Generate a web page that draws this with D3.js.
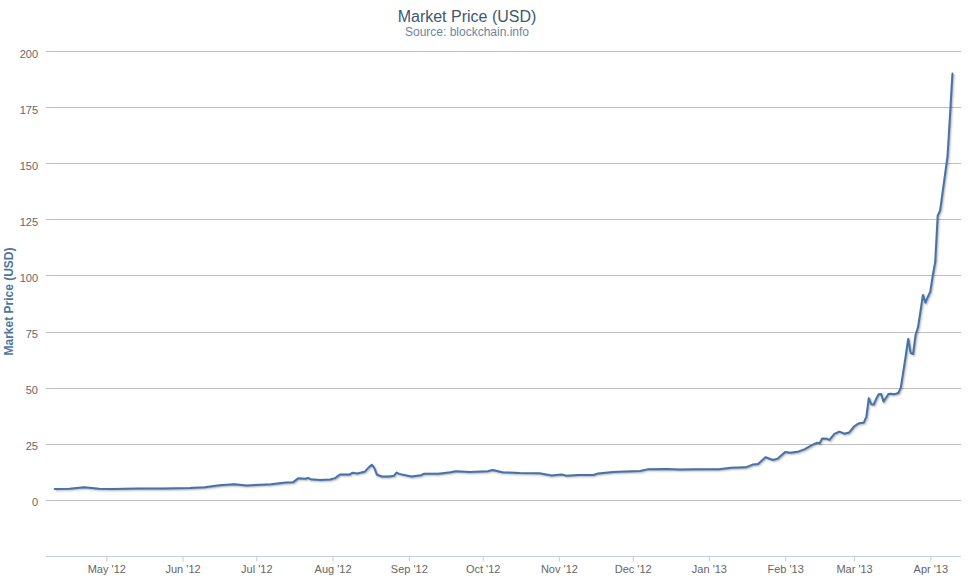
<!DOCTYPE html>
<html>
<head>
<meta charset="utf-8">
<script src="https://cdn.jsdelivr.net/npm/d3@7"></script>
<style>
  html, body { margin: 0; padding: 0; background: #fff; }
  svg { display: block; font-family: "Liberation Sans", Arial, sans-serif; }
</style>
</head>
<body>
<svg id="chart" width="979" height="584"></svg>
<script>
// ---- data ----
const dates = [
  "2012-04-10","2012-04-16","2012-04-22","2012-04-28","2012-05-04","2012-05-14","2012-05-24",
  "2012-06-04","2012-06-10","2012-06-16","2012-06-22","2012-06-27","2012-07-03","2012-07-07",
  "2012-07-13","2012-07-16","2012-07-18","2012-07-21","2012-07-22","2012-07-23","2012-07-27",
  "2012-07-31","2012-08-02","2012-08-04","2012-08-08","2012-08-09","2012-08-11","2012-08-14",
  "2012-08-16","2012-08-17","2012-08-18","2012-08-19","2012-08-21","2012-08-24","2012-08-26",
  "2012-08-27","2012-08-28","2012-09-02","2012-09-06","2012-09-07","2012-09-13","2012-09-18",
  "2012-09-20","2012-09-26","2012-10-03","2012-10-05","2012-10-09","2012-10-16","2012-10-24",
  "2012-10-29","2012-11-02","2012-11-04","2012-11-09","2012-11-15","2012-11-17","2012-11-23",
  "2012-11-28","2012-12-04","2012-12-07","2012-12-15","2012-12-20","2012-12-28","2013-01-05",
  "2013-01-10","2013-01-16","2013-01-19","2013-01-21","2013-01-24","2013-01-27","2013-01-29",
  "2013-02-01","2013-02-03","2013-02-06","2013-02-09","2013-02-12","2013-02-14","2013-02-15",
  "2013-02-16","2013-02-18","2013-02-19","2013-02-21","2013-02-23","2013-02-25","2013-02-27",
  "2013-03-01","2013-03-02","2013-03-03","2013-03-04","2013-03-05","2013-03-06","2013-03-07",
  "2013-03-08","2013-03-09","2013-03-10","2013-03-11","2013-03-12","2013-03-13","2013-03-14",
  "2013-03-15","2013-03-16","2013-03-17","2013-03-18","2013-03-19","2013-03-20","2013-03-21",
  "2013-03-22","2013-03-23","2013-03-24","2013-03-25","2013-03-26","2013-03-27","2013-03-28",
  "2013-03-29","2013-03-30","2013-03-31","2013-04-01","2013-04-02","2013-04-03","2013-04-04",
  "2013-04-05","2013-04-06","2013-04-07","2013-04-08","2013-04-09","2013-04-10"
];
const prices = [
  4.9, 5.0, 5.6, 5.0, 4.9, 5.1, 5.1,
  5.3, 5.6, 6.5, 7.0, 6.4, 6.8, 7.0,
  7.7, 7.9, 9.6, 9.4, 9.8, 9.2, 8.9,
  9.1, 9.7, 11.3, 11.3, 12.1, 11.8, 12.5,
  14.8, 15.6, 14.1, 11.2, 10.4, 10.4, 10.8,
  12.2, 11.6, 10.4, 11.0, 11.6, 11.6, 12.3,
  12.8, 12.4, 12.8, 13.3, 12.3, 12.0, 11.9,
  10.9, 11.3, 10.8, 11.1, 11.1, 11.8, 12.4,
  12.6, 12.9, 13.6, 13.8, 13.5, 13.6, 13.6,
  14.3, 14.5, 15.8, 16.0, 19.0, 17.8, 18.4,
  21.3, 21.0, 21.4, 22.6, 24.5, 25.5, 25.2,
  27.3, 27.2, 26.7, 29.4, 30.4, 29.5, 30.0,
  32.7, 33.5, 34.1, 34.3, 34.5, 37.0, 45.3,
  42.6, 42.5, 45.0, 47.1, 47.2, 43.8, 45.5,
  47.2, 47.3, 47.1, 47.3, 47.6, 50.0, 57.0,
  64.0, 71.7, 65.5, 65.0, 73.4, 76.9, 84.0,
  91.3, 87.9, 90.5, 92.8, 100.0, 106.0, 126.5,
  129.0, 137.0, 145.0, 153.0, 171.0, 190.0
];
const monthTicks = ["2012-05-01","2012-06-01","2012-07-01","2012-08-01","2012-09-01","2012-10-01",
  "2012-11-01","2012-12-01","2013-01-01","2013-02-01","2013-03-01","2013-04-01"];
const monthLabels = ["May '12","Jun '12","Jul '12","Aug '12","Sep '12","Oct '12",
  "Nov '12","Dec '12","Jan '13","Feb '13","Mar '13","Apr '13"];
const yTicks = [0, 25, 50, 75, 100, 125, 150, 175, 200];

// ---- layout ----
const plotLeft = 46, plotRight = 961, plotTop = 51, plotBottom = 556;
const parse = d3.utcParse("%Y-%m-%d");
const data = dates.map((d, i) => ({ date: parse(d), value: prices[i] }));
const tickDates = monthTicks.map(parse);

// x scale anchored on May 1 2012 and Apr 1 2013 tick positions
const x0 = parse("2012-05-01"), x1 = parse("2013-04-01");
const px0 = 106.3, px1 = 930.3;
const msPerPx = (x1 - x0) / (px1 - px0);
const domStart = new Date(+x0 - (px0 - plotLeft) * msPerPx);
const domEnd = new Date(+x1 + (plotRight - px1) * msPerPx);
const x = d3.scaleUtc().domain([domStart, domEnd]).range([plotLeft, plotRight]);
const y = d3.scaleLinear().domain([-25, 200]).range([plotBottom, plotTop]);

const svg = d3.select("#chart");

// title
svg.append("text").attr("x", 467).attr("y", 21.5).attr("text-anchor", "middle")
  .attr("fill", "#3E576F").style("font-size", "16px").text("Market Price (USD)");
svg.append("text").attr("x", 467).attr("y", 35.5).attr("text-anchor", "middle")
  .attr("fill", "#6D869F").style("font-size", "12px").text("Source: blockchain.info");

// grid lines
svg.append("g").selectAll("line").data(yTicks).join("line")
  .attr("x1", plotLeft).attr("x2", plotRight)
  .attr("y1", d => Math.round(y(d)) + 0.5).attr("y2", d => Math.round(y(d)) + 0.5)
  .attr("stroke", "#C0C0C0").attr("stroke-width", 1);

// y labels
svg.append("g").selectAll("text").data(yTicks).join("text")
  .attr("x", 38).attr("y", d => y(d) + 6.5).attr("text-anchor", "end")
  .attr("fill", "#666").style("font-size", "11px").text(d => d);

// y axis title
svg.append("text").attr("transform", `translate(12.5,${(plotTop + plotBottom) / 2 - 2}) rotate(-90)`)
  .attr("text-anchor", "middle").attr("fill", "#4D759E")
  .style("font-size", "12px").style("font-weight", "bold").text("Market Price (USD)");

// x axis
const xAxis = d3.axisBottom(x).tickValues(tickDates)
  .tickFormat((d, i) => monthLabels[i]).tickSize(5).tickPadding(4);
const gx = svg.append("g").attr("transform", `translate(0,${plotBottom + 0.5})`).call(xAxis);
gx.select(".domain").attr("stroke", "#C0D0E0").attr("d", `M${plotLeft},0H${plotRight}`);
gx.selectAll(".tick line").attr("stroke", "#C0D0E0");
gx.selectAll(".tick text").attr("fill", "#666").style("font-size", "11px")
  .style("font-family", "'Liberation Sans', Arial, sans-serif");

// line with shadow
const line = d3.line().x(d => x(d.date)).y(d => y(d.value));
const lg = svg.append("g");
[[5, 0.05], [3, 0.1], [1, 0.15]].forEach(([w, o]) => {
  lg.append("path").datum(data).attr("d", line).attr("fill", "none")
    .attr("stroke", "#000").attr("stroke-opacity", o).attr("stroke-width", w)
    .attr("stroke-linejoin", "round").attr("transform", "translate(1,1)");
});
lg.append("path").datum(data).attr("d", line).attr("fill", "none")
  .attr("stroke", "#4572A7").attr("stroke-width", 2)
  .attr("stroke-linejoin", "round").attr("stroke-linecap", "round");
</script>
</body>
</html>
